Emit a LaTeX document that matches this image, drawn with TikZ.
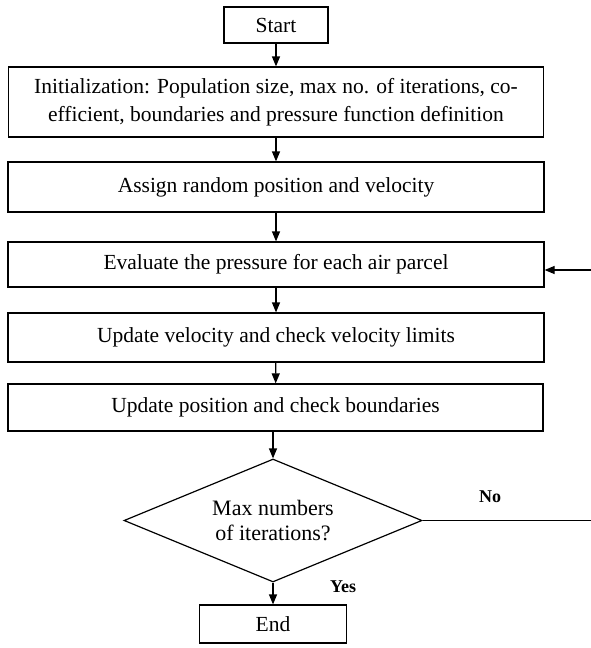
\documentclass[tikz,border=0pt]{standalone}
\usepackage{fontspec}
\setmainfont{Liberation Serif}
\usetikzlibrary{shapes.geometric,arrows.meta}
\begin{document}
\begin{tikzpicture}[x=1pt,y=-1pt,
  box/.style={draw, line width=1.2pt, inner sep=0pt, align=center, font=\fontsize{21.5}{28}\selectfont},
  lbl/.style={font=\bfseries\fontsize{18}{20}\selectfont},
  arr/.style={line width=1.2pt, -{Triangle[length=10pt,width=8pt]}}]
\useasboundingbox (0,0) rectangle (590,648);
\node[box, minimum width=104, minimum height=36] (start) at (276,25){Start};
\node[box, minimum width=535, minimum height=70] (init) at (276,102){Initialization: Population size, max no. of iterations, co-\\efficient, boundaries and pressure function definition};
\node[box, minimum width=536, minimum height=50] (assign) at (276,187){Assign random position and velocity};
\node[box, minimum width=536, minimum height=45] (eval) at (276,264.5){Evaluate the pressure for each air parcel};
\node[box, minimum width=536, minimum height=49] (vel) at (276,337.5){Update velocity and check velocity limits};
\node[box, minimum width=535, minimum height=47] (pos) at (275.5,407.5){Update position and check boundaries};
\node[box, diamond, aspect=2.42, minimum width=298, minimum height=123, font=\fontsize{22}{25}\selectfont] (dec) at (273,520.5){Max numbers\\of iterations?};
\node[box, minimum width=147, minimum height=38] (end) at (273,624){End};
\node[lbl] (no) at (490,497){No};
\node[lbl] (yes) at (343,587){Yes};
\coordinate (ret) at (600,270);
\draw[arr](start) -- (init);
\draw[arr](init) -- (assign);
\draw[arr](assign) -- (eval);
\draw[arr](eval) -- (vel);
\draw[arr](vel) -- (pos);
\draw[arr](pos.south -| dec) -- (dec);
\draw[arr](dec) -- (end);
\draw[arr](dec.east) -- (dec.east -| ret) -- (ret) -- (ret -| eval.east);

\end{tikzpicture}
\end{document}
